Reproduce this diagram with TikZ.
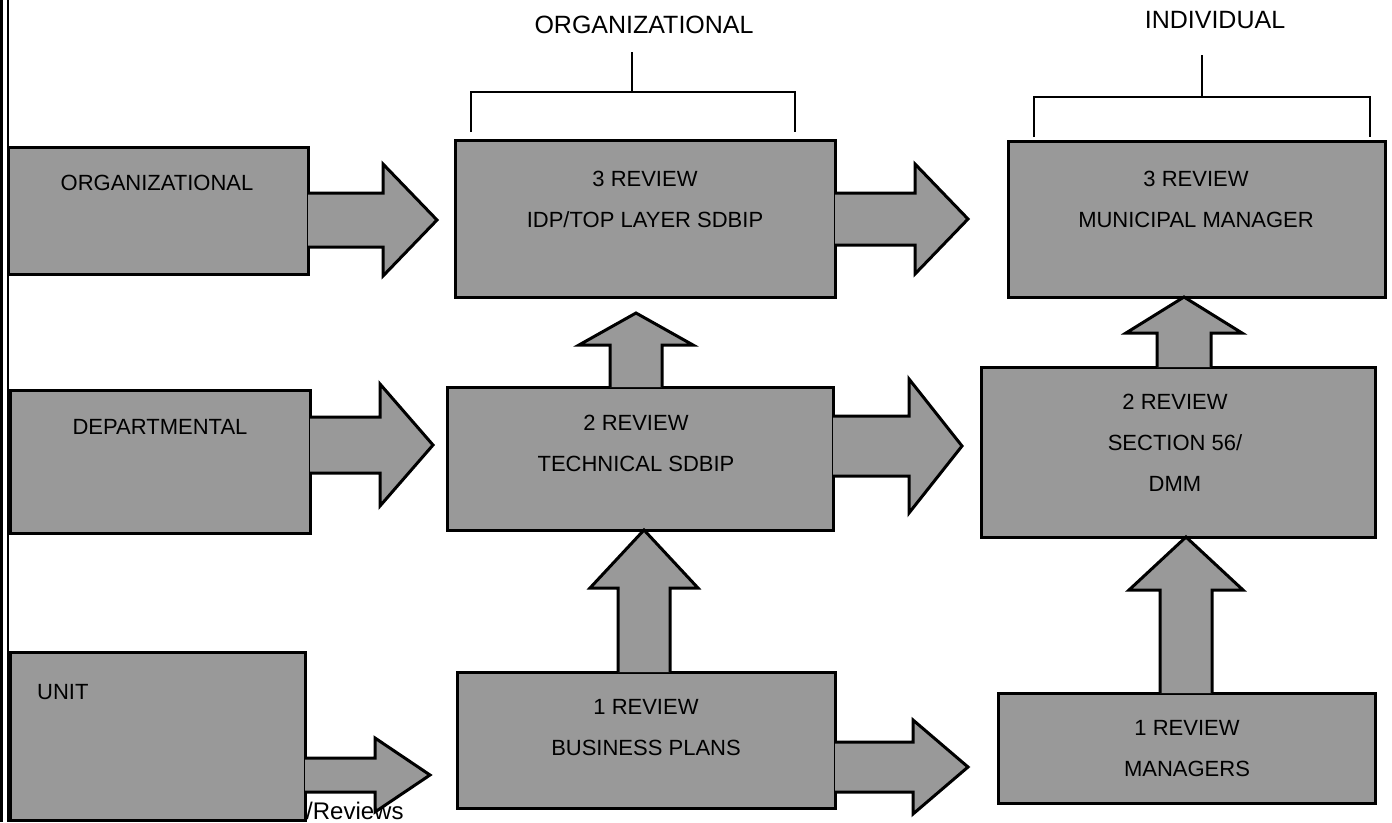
\documentclass[tikz,border=0pt]{standalone}
\usepackage{fontspec}
\setmainfont{Liberation Sans}
\usetikzlibrary{calc}
\tikzset{
  box/.style={draw=black, line width=3pt, fill=black!40, inner sep=0pt, outer sep=0pt, anchor=north west},
  barrow/.style={draw=black, line width=3pt, fill=black!40, line join=miter},
  boxtxt/.style={font=\fontsize{22}{41}\selectfont, align=center, inner sep=0pt},
  hdr/.style={font=\fontsize{25}{30}\selectfont, inner sep=0pt},
  brk/.style={line width=1.5pt},
  frameline/.style={line width=2.5pt},
}
% right block arrow: #1 source, #2 target, #3 y, #4 shaft half, #5 head half, #6 head length, #7 gap
\newcommand\rblockarrow[7]{%
  \draw[barrow] let \p1=(#1.east), \p2=(#2.west), \n1={\x1}, \n2={\x2-#7pt}, \n3={\x2-#7pt-#6pt} in
  (\n1,{#3-#4}) -- (\n3,{#3-#4}) -- (\n3,{#3-#5}) -- (\n2,#3) -- (\n3,{#3+#5}) -- (\n3,{#3+#4}) -- (\n1,{#3+#4});}
% up block arrow: #1 source (below), #2 target (above), #3 x, #4 shaft half, #5 head half, #6 head length, #7 gap
\newcommand\ublockarrow[7]{%
  \draw[barrow] let \p1=(#1.north), \p2=(#2.south), \n1={\y1}, \n2={\y2-#7pt}, \n3={\y2-#7pt-#6pt} in
  ({#3pt-#4pt},\n1) -- ({#3pt-#4pt},\n3) -- ({#3pt-#5pt},\n3) -- ({#3pt},\n2) -- ({#3pt+#5pt},\n3) -- ({#3pt+#4pt},\n3) -- ({#3pt+#4pt},\n1);}
\begin{document}
\begin{tikzpicture}[x=1pt, y=-1pt]
\useasboundingbox (0,0) rectangle (1392,822);

% left frame lines
\draw[frameline, line width=3pt] (1.5,0) -- (1.5,822);
\draw[frameline] (8,0) -- (8,822);

% boxes
\node[box, minimum width=300pt, minimum height=127pt] (org) at (8,147) {};
\node[box, minimum width=300pt, minimum height=143pt] (dept) at (10,390) {};
\node[box, minimum width=295pt, minimum height=168pt] (unit) at (10,652) {};
\node[box, minimum width=380pt, minimum height=157pt] (idp) at (455,140) {};
\node[box, minimum width=386pt, minimum height=143pt] (tech) at (447,387) {};
\node[box, minimum width=378pt, minimum height=136pt] (bp) at (457,672) {};
\node[box, minimum width=377pt, minimum height=156pt] (mun) at (1008,141) {};
\node[box, minimum width=394pt, minimum height=170pt] (sec) at (981,367) {};
\node[box, minimum width=377pt, minimum height=110pt] (mgr) at (998,693) {};

% horizontal block arrows
\rblockarrow{org}{idp}{220}{27}{56}{54}{18}
\rblockarrow{dept}{tech}{445}{28}{61}{53}{14}
\rblockarrow{unit}{bp}{775}{17}{37}{55}{27}
\rblockarrow{idp}{mun}{219}{26}{55}{53}{40}
\rblockarrow{tech}{sec}{446}{30}{67}{53}{19}
\rblockarrow{bp}{mgr}{767}{25}{47}{55}{30}

% vertical block arrows
\ublockarrow{tech}{idp}{636}{26}{57}{32}{16}
\ublockarrow{bp}{tech}{644}{26}{54}{58}{0}
\ublockarrow{sec}{mun}{1184}{27}{58}{36}{0}
\ublockarrow{mgr}{sec}{1186}{26}{57}{53}{0}

% box texts
\node[boxtxt] (torg) at (157,183) {ORGANIZATIONAL};
\node[boxtxt] (tdept) at (160,427) {DEPARTMENTAL};
\node[boxtxt, anchor=west] (tunit) at (37,692) {UNIT};
\node[boxtxt] (tidp) at (645,199) {3 REVIEW\\IDP/TOP LAYER SDBIP};
\node[boxtxt] (ttech) at (636,443) {2 REVIEW\\TECHNICAL SDBIP};
\node[boxtxt] (tbp) at (646,728) {1 REVIEW\\BUSINESS PLANS};
\node[boxtxt] (tmun) at (1196,199) {3 REVIEW\\MUNICIPAL MANAGER};
\node[boxtxt] (tsec) at (1175,443) {2 REVIEW\\SECTION 56/\\DMM};
\node[boxtxt] (tmgr) at (1187,749) {1 REVIEW\\MANAGERS};

% headers and brackets
\node[hdr] (horg) at (644,25) {ORGANIZATIONAL};
\draw[brk] (632,52) -- (632,92);
\draw[brk] (471,132) -- (471,92) -- (795,92) -- (795,132);
\node[hdr] (hind) at (1215,20) {INDIVIDUAL};
\draw[brk] (1202,55) -- (1202,97);
\draw[brk] (1034,137) -- (1034,97) -- (1370,97) -- (1370,137);

% stray label
\node[font=\fontsize{24}{28}\selectfont, anchor=west, inner sep=0pt] (rev) at (306,811) {/Reviews};
\end{tikzpicture}
\end{document}
